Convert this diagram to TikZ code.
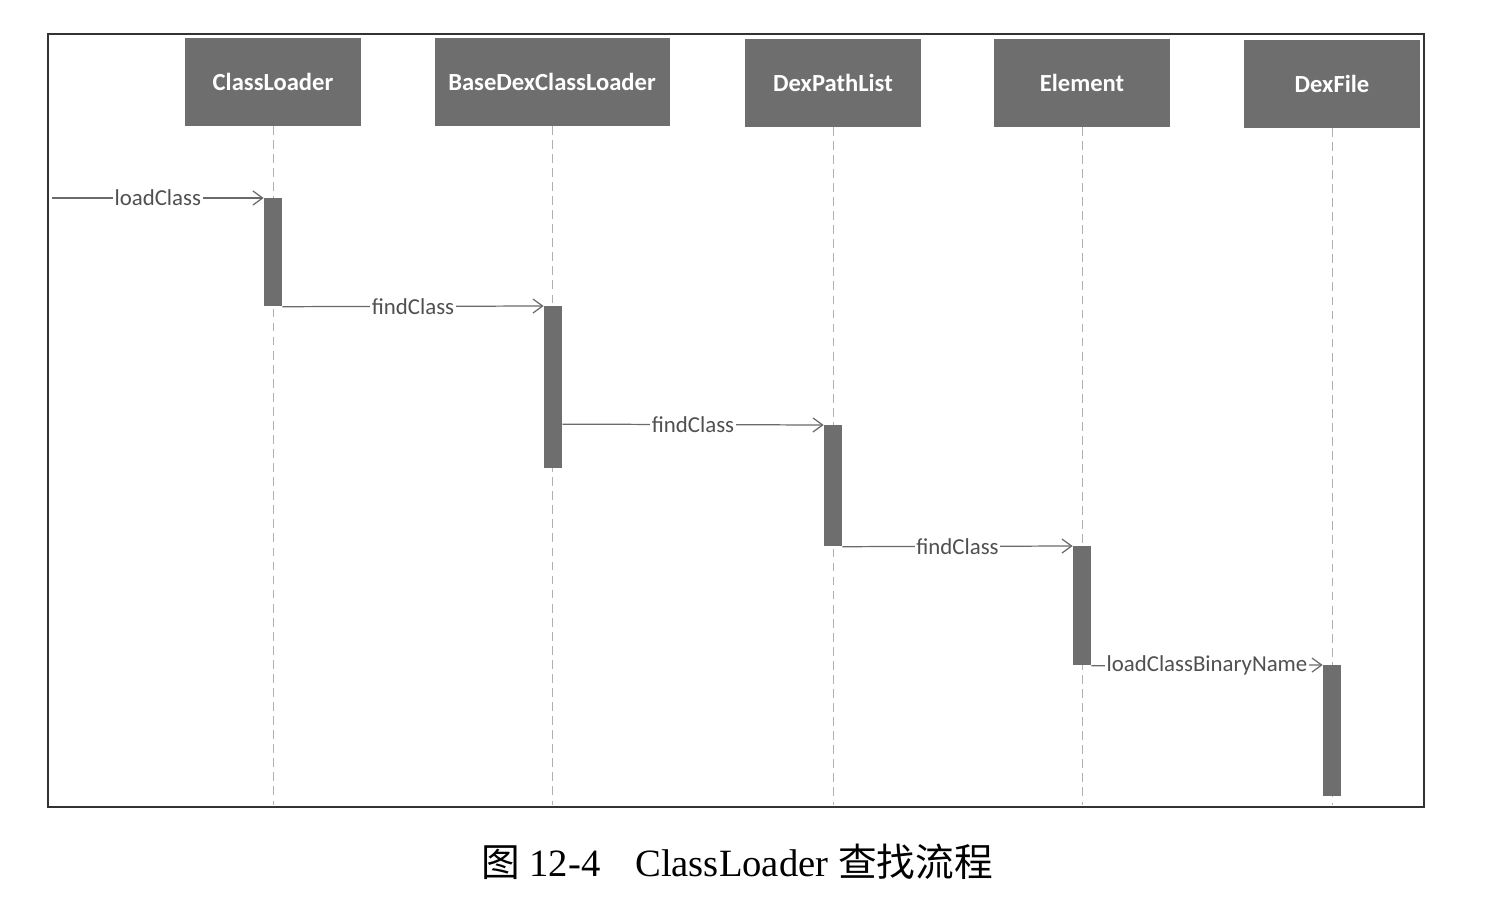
\documentclass[tikz,border=0pt]{standalone}
\usepackage{fontspec}
\setmainfont{Liberation Serif}
\newfontfamily\labelfont{Carlito}
\newfontfamily\cjk{Noto Sans CJK SC}
\usetikzlibrary{arrows.meta}
\definecolor{boxgray}{HTML}{6E6E6E}
\definecolor{linegray}{HTML}{6A6A6A}
\definecolor{lifegray}{HTML}{B0B0B0}
\definecolor{textgray}{HTML}{505050}

\begin{document}
\begin{tikzpicture}[x=0.02cm,y=-0.02cm,
  head/.style={draw=boxgray,fill=boxgray,text=white,minimum width=3.5cm,minimum height=1.74cm,font=\labelfont\bfseries\fontsize{14}{16}\selectfont},
  bar/.style={fill=boxgray,draw=none,minimum width=0.36cm,inner sep=0pt,anchor=north},
  life/.style={draw=lifegray,dashed,line width=0.5pt,dash pattern=on 5pt off 3pt},
  msg/.style={draw=linegray,line width=0.7pt,-{Straight Barb[length=5.5pt,width=8pt,line width=0.7pt]}},
  lbl/.style={fill=white,inner sep=1pt,text=textgray,font=\labelfont\fontsize{13}{15}\selectfont}]
  \useasboundingbox (0,0) rectangle (1500,917);

  %frame
  \draw[line width=1.1pt,draw=black!80] (48,34) rectangle (1424,807);

  %objects
  \node[head] (cl) at (273,82) {ClassLoader};
  \node[head,minimum width=4.68cm] (bdcl) at (552,82) {BaseDexClassLoader};
  \node[head] (dpl) at (833,83) {DexPathList};
  \node[head] (elem) at (1082,83) {Element};
  \node[head] (dexf) at (1332,84) {DexFile};

  %lifelines
  \coordinate (bottom) at (0,805);
  \foreach \o in {cl,bdcl,dpl,elem,dexf}
    \draw[life] (\o.south) -- (\o.south |- bottom);

  %activation bars
  \node[bar,minimum height=2.16cm] (actcl) at (273,198) {};
  \node[bar,minimum height=3.24cm] (actbdcl) at (553,306) {};
  \node[bar,minimum height=2.42cm] (actdpl) at (833,425) {};
  \node[bar,minimum height=2.38cm] (actelem) at (1082,546) {};
  \node[bar,minimum height=2.62cm] (actdexf) at (1332,665) {};

  %messages
  \coordinate (caller) at (52,198);
  \draw[msg] (caller) -- node[lbl] {loadClass} (actcl.north west);
  \draw[msg] (actcl.south east) -- node[lbl] {findClass} (actbdcl.north west);
  \draw[msg] ([yshift=0.5pt]actdpl.north west -| actbdcl.east) -- node[lbl] {findClass} (actdpl.north west);
  \draw[msg] (actdpl.south east) -- node[lbl] {findClass} (actelem.north west);
  \draw[msg] (actelem.south east) -- node[lbl] {loadClassBinaryName} (actdexf.north west);

  %caption
  \node[font=\fontsize{22}{25}\selectfont] (caption) at (737,862)
    {{\cjk 图} 12-4\hspace{0.9em}ClassLoader {\cjk 查找流程}};
\end{tikzpicture}
\end{document}
